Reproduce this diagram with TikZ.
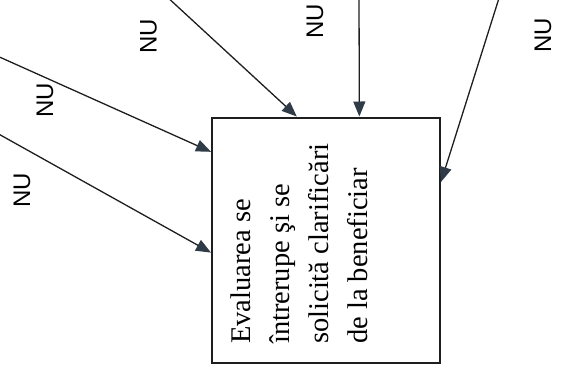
\documentclass[tikz,border=0pt]{standalone}
\usepackage{fontspec}
\setmainfont{Liberation Serif}
\newfontfamily\nufont{Liberation Sans}
\usetikzlibrary{arrows.meta, calc}
\definecolor{tipgray}{HTML}{2F3B47}
\definecolor{linegray}{HTML}{1E1E1E}

\begin{document}
\begin{tikzpicture}[x=1pt, y=-1pt,
    >={Triangle[length=15pt, width=12pt, color=tipgray]},
    nu/.style={font=\nufont\fontsize{24}{24}\selectfont, rotate=90, inner sep=0pt},
    flow/.style={->, draw=linegray, line width=1.3pt}]
  \useasboundingbox (0,0) rectangle (573,370);
  % Evaluation box
  \node[draw=linegray, line width=2pt, minimum width=228pt, minimum height=245pt, inner sep=0pt]
    (EVAL) at (326,240) {};
  \node[rotate=90, align=left, anchor=west, inner sep=0pt, font=\fontsize{28.5}{39}\selectfont]
    (EVALTXT) at (298.75,344) {Evaluarea se\\întrerupe şi se\\solicită clarificări\\de la beneficiar};
  % Loose ends of the incoming arrows
  \coordinate (S1) at (-5,55);
  \coordinate (S2) at (-5,132);
  \coordinate (S3) at (165,-5);
  \coordinate (S4) at (359,-5);
  \coordinate (S5) at (500,-5);
  % Answers
  \node[nu] (NU1) at (148.5,36.5) {NU};
  \node[nu] (NU2) at (45,100) {NU};
  \node[nu] (NU3) at (22,190) {NU};
  \node[nu] (NU4) at (315,21) {NU};
  \node[nu] (NU5) at (543,35) {NU};
  % Incoming arrows
  \draw[flow] (S1) -- ($(EVAL.north west)!0.143!(EVAL.south west)$);
  \draw[flow] (S2) -- ($(EVAL.north west)!0.551!(EVAL.south west)$);
  \draw[flow] (S3) -- ($(EVAL.north west)!0.373!(EVAL.north east)$);
  \draw[flow] (S4) -- ($(EVAL.north west)!0.645!(EVAL.north east)$);
  \draw[flow] (S5) -- ($(EVAL.north east)!0.265!(EVAL.south east)$);
\end{tikzpicture}
\end{document}
